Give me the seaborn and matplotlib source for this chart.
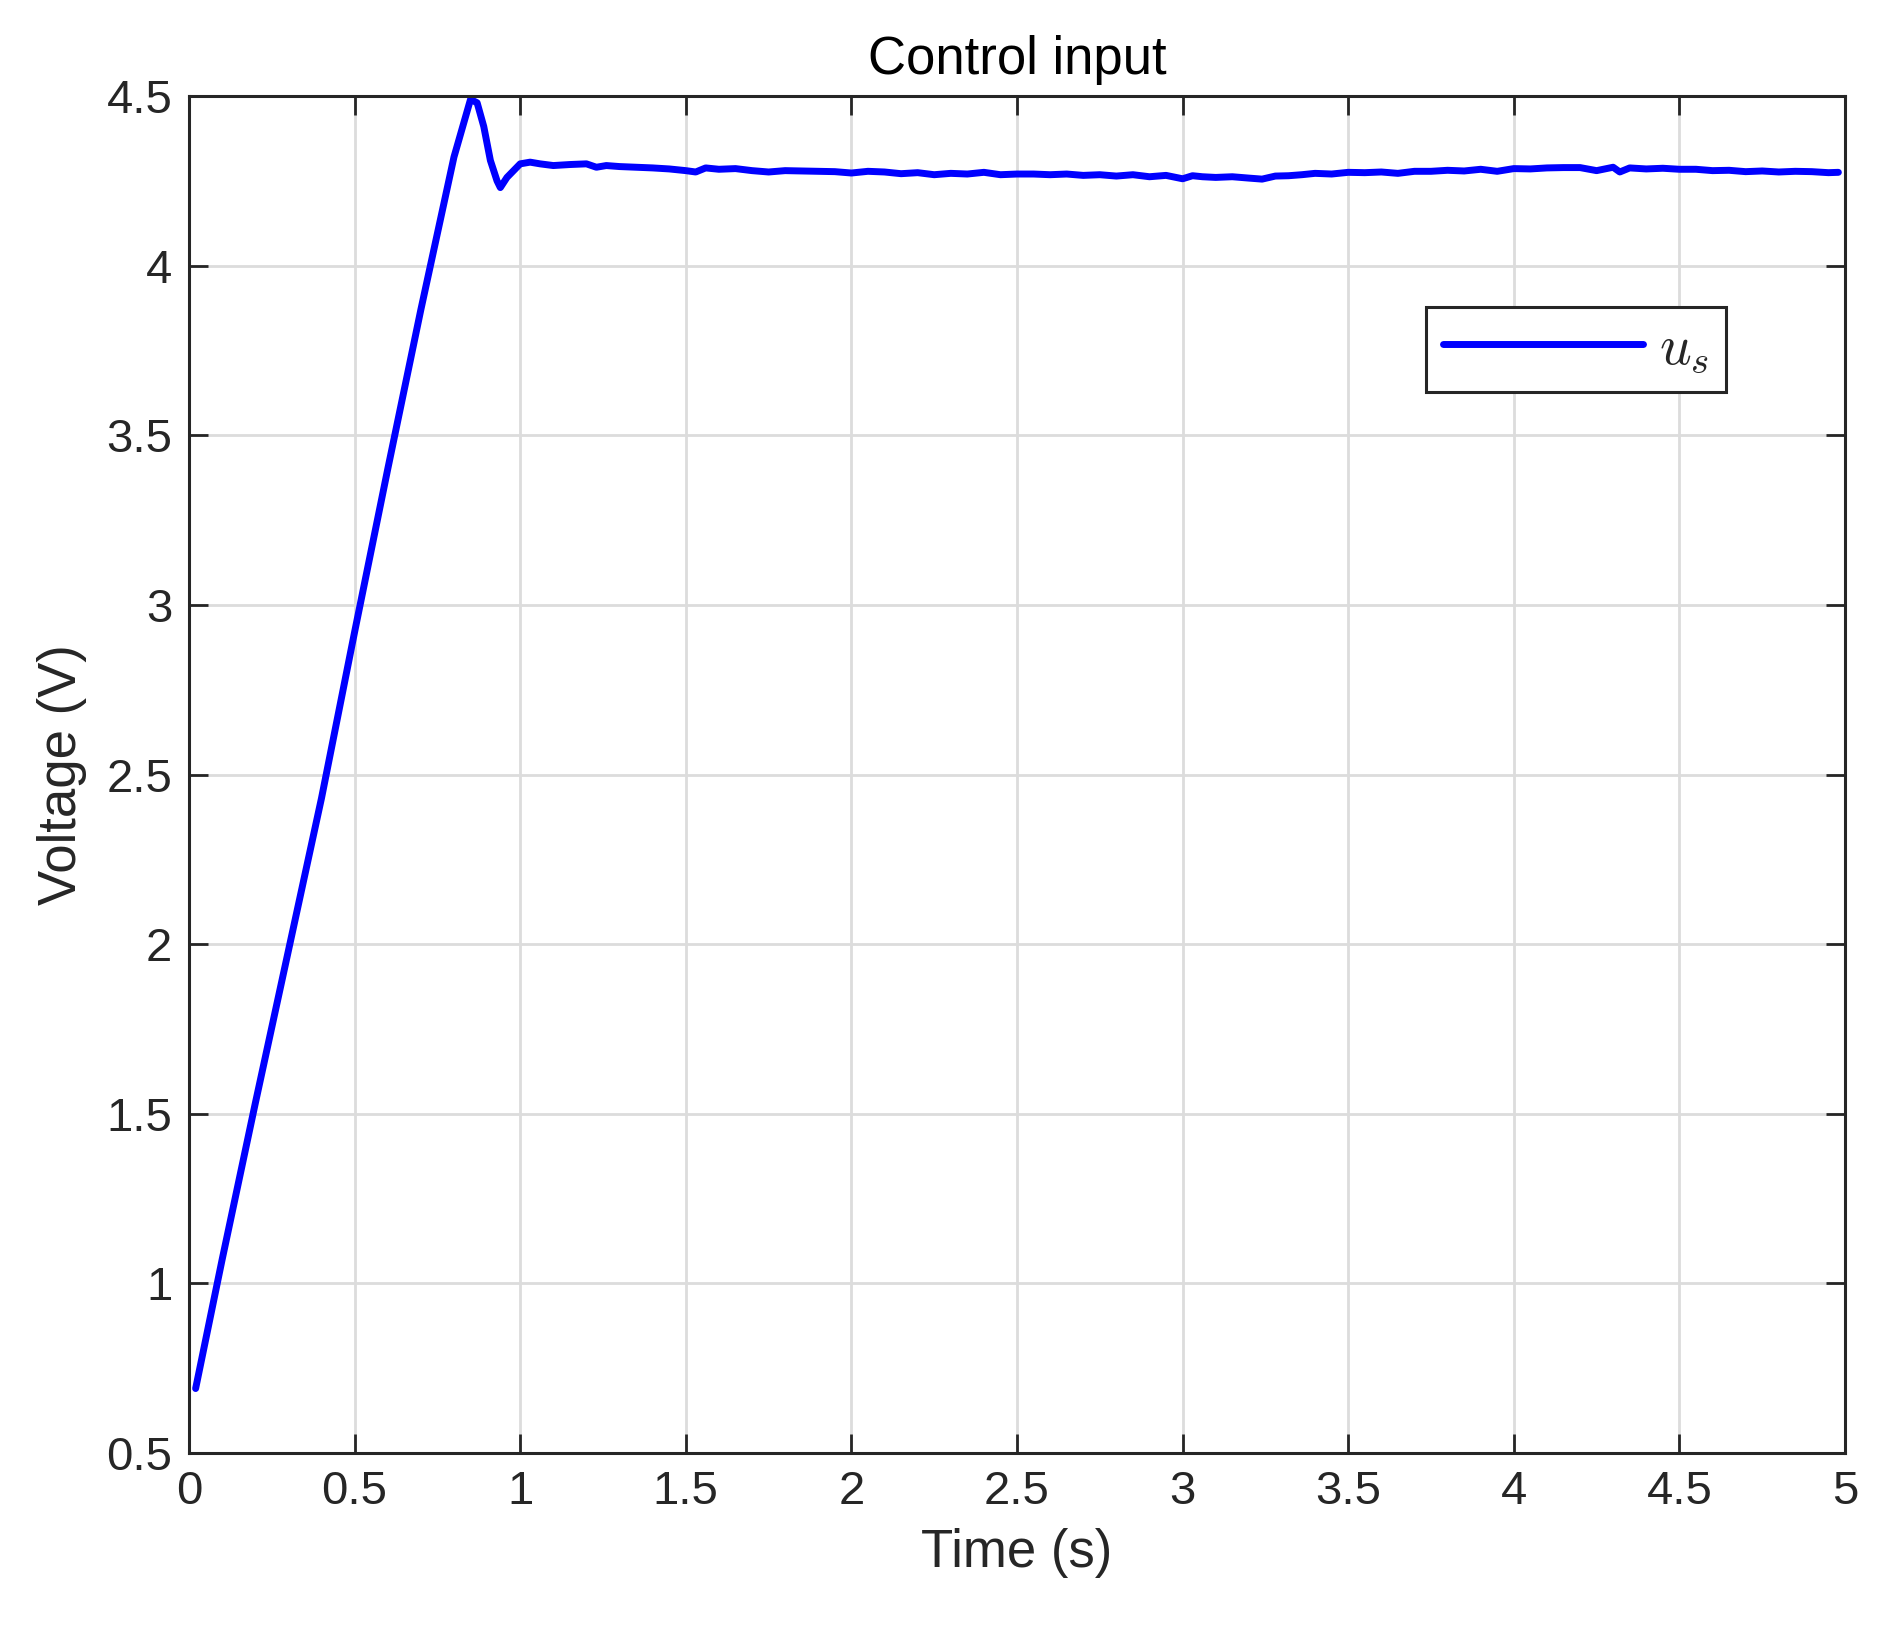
import matplotlib
matplotlib.use("Agg")
import matplotlib.pyplot as plt
import seaborn as sns
import pandas as pd

# Values
time_s = [0.02, 0.10, 0.20, 0.30, 0.40, 0.50, 0.60, 0.70, 0.80, 0.85, 0.87, 0.89, 0.91, 0.93, 0.94,
          0.96, 0.98, 1.00, 1.03, 1.06, 1.10, 1.15, 1.20, 1.23, 1.26, 1.30, 1.35, 1.40, 1.45, 1.50,
          1.53, 1.56, 1.60, 1.65, 1.70, 1.75, 1.80, 1.85, 1.90, 1.95, 2.00, 2.05, 2.10, 2.15, 2.20,
          2.25, 2.30, 2.35, 2.40, 2.45, 2.50, 2.55, 2.60, 2.65, 2.70, 2.75, 2.80, 2.85, 2.90, 2.95,
          3.00, 3.03, 3.06, 3.10, 3.15, 3.20, 3.24, 3.28, 3.32, 3.36, 3.40, 3.45, 3.50, 3.55, 3.60,
          3.65, 3.70, 3.75, 3.80, 3.85, 3.90, 3.95, 4.00, 4.05, 4.10, 4.15, 4.20, 4.25, 4.30, 4.32,
          4.35, 4.40, 4.45, 4.50, 4.55, 4.60, 4.65, 4.70, 4.75, 4.80, 4.85, 4.90, 4.95, 4.98]
voltage = [0.69, 1.07, 1.53, 1.98, 2.43, 2.92, 3.40, 3.87, 4.32, 4.49, 4.48, 4.41, 4.31, 4.25, 4.23,
           4.26, 4.28, 4.30, 4.305, 4.30, 4.295, 4.298, 4.30, 4.29, 4.295, 4.292, 4.29, 4.288, 4.285, 4.28,
           4.276, 4.288, 4.284, 4.286, 4.28, 4.276, 4.28, 4.279, 4.278, 4.277, 4.273, 4.278, 4.276, 4.271, 4.274,
           4.268, 4.272, 4.27, 4.275, 4.268, 4.27, 4.27, 4.268, 4.27, 4.266, 4.268, 4.264, 4.268, 4.262, 4.266,
           4.256, 4.265, 4.262, 4.26, 4.262, 4.258, 4.255, 4.264, 4.265, 4.268, 4.272, 4.27, 4.275, 4.274, 4.276,
           4.272, 4.278, 4.278, 4.281, 4.279, 4.284, 4.278, 4.286, 4.285, 4.288, 4.289, 4.289, 4.28, 4.29, 4.276,
           4.288, 4.285, 4.287, 4.284, 4.284, 4.28, 4.281, 4.277, 4.279, 4.276, 4.278, 4.277, 4.274, 4.275]

df = pd.DataFrame({"Time": time_s, "Voltage": voltage})

sns.set_theme(style="whitegrid")
plt.rcParams["font.family"] = ["Liberation Sans", "DejaVu Sans"]
plt.rcParams["mathtext.fontset"] = "cm"

fig = plt.figure(figsize=(18.81, 16.27), dpi=100)
ax = fig.add_axes([189 / 1881, 1 - 1453 / 1627, (1845 - 189) / 1881, (1453 - 96) / 1627])

sns.lineplot(data=df, x="Time", y="Voltage", ax=ax, color="#0000ff", linewidth=5, label=r"$\boldsymbol{u_s}$")

ax.set_xlim(0, 5)
ax.set_ylim(0.5, 4.5)
ax.set_xticks([0, 0.5, 1, 1.5, 2, 2.5, 3, 3.5, 4, 4.5, 5])
ax.set_xticklabels(["0", "0.5", "1", "1.5", "2", "2.5", "3", "3.5", "4", "4.5", "5"])
ax.set_yticks([0.5, 1, 1.5, 2, 2.5, 3, 3.5, 4, 4.5])
ax.set_yticklabels(["0.5", "1", "1.5", "2", "2.5", "3", "3.5", "4", "4.5"])
ax.tick_params(labelsize=34, colors="#262626", direction="in", length=14, width=2,
               top=True, right=True, bottom=True, left=True, pad=12)
ax.grid(True, color="#dcdcdc", linewidth=2)
for s in ax.spines.values():
    s.set_color("#262626")
    s.set_linewidth(2.2)

ax.set_xlabel("Time (s)", fontsize=38, color="#262626", labelpad=10)
ax.set_ylabel("Voltage (V)", fontsize=38, color="#262626", labelpad=14)
ax.set_title("Control input", fontsize=38, color="black", pad=16)

leg = ax.legend(loc="upper right", bbox_to_anchor=(0.945, 0.865), fontsize=40, fancybox=False,
                handlelength=3.6, handletextpad=0.3, borderpad=0.3, framealpha=1)
leg.get_frame().set_edgecolor("#262626")
leg.get_frame().set_linewidth(2.2)

fig.savefig("out.png", dpi=100)
